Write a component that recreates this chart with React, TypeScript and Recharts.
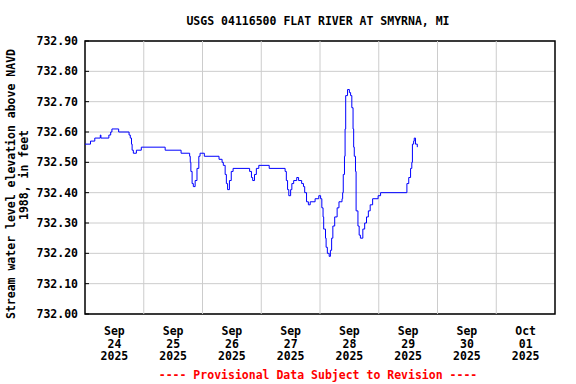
import {
  CartesianGrid,
  Line,
  LineChart,
  ReferenceArea,
  ReferenceLine,
  XAxis,
  YAxis,
} from "recharts";

// hours since Sep 24 2025 00:00
const hours = [
  0, 2.25, 4, 6.25, 6.5, 9.75, 10.5, 11, 13.75, 18, 18.5, 19, 19.25, 19.75, 21,
  23, 32.75, 39.25, 42.75, 43, 43.25, 43.75, 44.25, 45, 45.75, 46.5, 47, 48.75,
  54.75, 56, 56.5, 57.25, 57.75, 58.25, 59, 59.75, 60.5, 67.25, 68, 68.5, 69.25,
  70, 71, 75.25, 81.75, 82.25, 82.75, 83.25, 84, 84.5, 85.25, 86.5, 87.25, 88.5,
  89.25, 89.75, 90.5, 91.25, 92, 94, 95.5, 96.25, 96.75, 97.25, 97.5, 98.25,
  98.5, 99, 99.75, 100.25, 100.75, 101.25, 102, 103, 103.75, 105, 105.25, 105.5,
  106, 106.25, 106.5, 107.25, 108, 108.5, 109, 109.5, 109.75, 110, 110.5, 110.75,
  111.5, 112, 112.5, 113.5, 114.25, 115, 115.75, 116.5, 117.5, 119.75, 120.75,
  131.5, 132.25, 133, 133.5, 133.75, 134.25, 134.5, 135, 135.75,
];

const levels = [
  732.56, 732.57, 732.58, 732.59, 732.58, 732.59, 732.6, 732.61, 732.6, 732.59,
  732.58, 732.56, 732.54, 732.53, 732.54, 732.55, 732.54, 732.53, 732.52, 732.5,
  732.47, 732.43, 732.42, 732.44, 732.48, 732.52, 732.53, 732.52, 732.51, 732.5,
  732.49, 732.46, 732.43, 732.41, 732.44, 732.47, 732.48, 732.47, 732.45, 732.44,
  732.46, 732.48, 732.49, 732.48, 732.47, 732.44, 732.41, 732.39, 732.41, 732.43,
  732.44, 732.45, 732.44, 732.43, 732.42, 732.4, 732.37, 732.36, 732.37, 732.38,
  732.39, 732.38, 732.35, 732.32, 732.28, 732.25, 732.22, 732.2, 732.19, 732.21,
  732.25, 732.29, 732.32, 732.35, 732.37, 732.38, 732.4, 732.46, 732.52, 732.61,
  732.72, 732.74, 732.73, 732.72, 732.68, 732.61, 732.55, 732.52, 732.47, 732.34,
  732.29, 732.26, 732.25, 732.28, 732.3, 732.32, 732.34, 732.36, 732.38, 732.39,
  732.4, 732.43, 732.45, 732.48, 732.5, 732.56, 732.57, 732.58, 732.56, 732.55,
];

const dayTicks = [12, 36, 60, 84, 108, 132, 156, 180];
const dayMonths = ["Sep", "Sep", "Sep", "Sep", "Sep", "Sep", "Sep", "Oct"];
const dayNumbers = ["24", "25", "26", "27", "28", "29", "30", "01"];
const dayYears = ["2025", "2025", "2025", "2025", "2025", "2025", "2025", "2025"];
const dayBoundaries = [24, 48, 72, 96, 120, 144, 168];
const levelTicks = [
  732.0, 732.1, 732.2, 732.3, 732.4, 732.5, 732.6, 732.7, 732.8, 732.9,
];

const data = hours.map((h, i) => ({ h, level: levels[i] }));

const FONT = "'DejaVu Sans Mono', monospace";
const GRID = "#cccccc";

function DayTick(props: any) {
  const { x, y, payload } = props;
  const i = dayTicks.indexOf(payload.value);
  return (
    <g transform={`translate(${x},${y})`}>
      <text
        textAnchor="middle"
        fontFamily={FONT}
        fontWeight="bold"
        fontSize={11.5}
        fill="#000"
      >
        <tspan x={0} y={21}>{dayMonths[i]}</tspan>
        <tspan x={0} y={33.5}>{dayNumbers[i]}</tspan>
        <tspan x={0} y={46}>{dayYears[i]}</tspan>
      </text>
    </g>
  );
}

export default function App() {
  const textStyle: React.CSSProperties = {
    position: "absolute",
    fontFamily: FONT,
    fontWeight: "bold",
    fontSize: 11.5,
    lineHeight: "12px",
    whiteSpace: "nowrap",
  };
  return (
    <div
      style={{
        position: "relative",
        width: 576,
        height: 384,
        background: "#fff",
      }}
    >
      <style>{"body{margin:0}"}</style>
      <div style={{ ...textStyle, left: 318, top: 15, transform: "translateX(-50%)" }}>
        USGS 04116500 FLAT RIVER AT SMYRNA, MI
      </div>
      <div
        style={{
          ...textStyle,
          left: 11,
          top: 183.5,
          transform: "translate(-50%,-50%) rotate(-90deg)",
        }}
      >
        Stream water level elevation above NAVD
      </div>
      <div
        style={{
          ...textStyle,
          left: 23.5,
          top: 175,
          transform: "translate(-50%,-50%) rotate(-90deg)",
        }}
      >
        1988, in feet
      </div>
      <div
        style={{
          ...textStyle,
          left: 318,
          top: 369,
          color: "#ff0000",
          transform: "translateX(-50%)",
        }}
      >
        ---- Provisional Data Subject to Revision ----
      </div>
      <LineChart
        width={576}
        height={384}
        data={data}
        margin={{ top: 41, right: 21, left: 0, bottom: 0 }}
      >
        <CartesianGrid vertical={false} stroke={GRID} strokeWidth={1} />
        {dayBoundaries.map((b) => (
          <ReferenceLine key={b} x={b} stroke={GRID} strokeWidth={1} />
        ))}
        <XAxis
          dataKey="h"
          type="number"
          domain={[0, 192]}
          ticks={dayTicks}
          height={70}
          tickSize={0}
          tickMargin={0}
          axisLine={false}
          tick={<DayTick />}
          interval={0}
        />
        <YAxis
          type="number"
          domain={[732, 732.9]}
          ticks={levelTicks}
          width={85}
          tickSize={-4}
          tickMargin={11}
          axisLine={false}
          tickLine={{ stroke: "#000" }}
          tickFormatter={(v: number) => v.toFixed(2)}
          tick={{
            fontFamily: FONT,
            fontWeight: "bold",
            fontSize: 11.5,
            fill: "#000",
          }}
          interval={0}
        />
        <Line
          type="stepAfter"
          dataKey="level"
          stroke="#0000ff"
          strokeWidth={1}
          dot={false}
          isAnimationActive={false}
        />
        <ReferenceArea
          x1={0}
          x2={192}
          y1={732}
          y2={732.9}
          fill="none"
          stroke="#000"
          strokeWidth={1.5}
          fillOpacity={0}
        />
      </LineChart>
    </div>
  );
}
